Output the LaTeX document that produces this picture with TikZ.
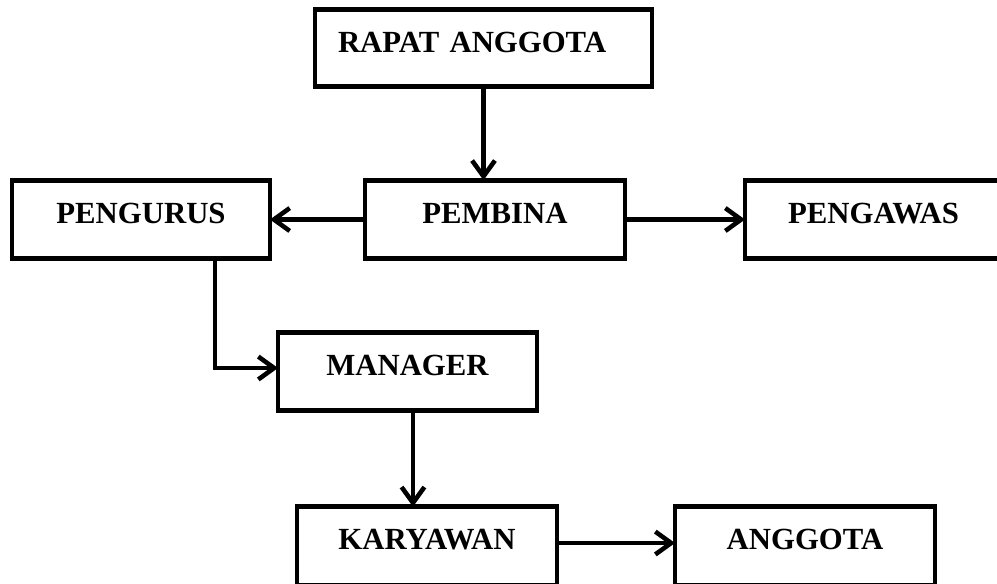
\documentclass[tikz,border=0pt]{standalone}
\usepackage{fontspec}
\setmainfont{Liberation Serif}
\usepackage{tikz}
\usetikzlibrary{positioning, arrows.meta}
\tikzset{
		org box/.style={
			rectangle,
			draw=black,
			line width=2.6pt,
			align=center,
			font=\fontsize{17.5}{20}\selectfont\bfseries,
			minimum width=5.2cm,
			text height=0.41cm,
			text depth=0.26cm,
			inner ysep=0.45cm,
			inner xsep=0pt,
			outer sep=0pt
		},
		org arrow/.style={
			line width=2.6pt,
			-{Straight Barb[length=9pt, width=13pt, line width=2.6pt]}
		}
	}
\begin{document}
\begin{tikzpicture}[x=0.02cm, y=-0.02cm]
		\useasboundingbox (0,0) rectangle (997,583);
		\clip (0,0) rectangle (997,583);
		% boxes:
		\node[org box, text width=5.82cm, align=left, minimum width=6.74cm,
			text depth=0.24cm] (rapat) at (483.5,48) {RAPAT ANGGOTA};
		\node[org box] (pembina) at (495,219.5) {PEMBINA};
		\node[org box, minimum width=5.16cm] (pengurus) at (141,219.5) {PENGURUS};
		\node[org box, minimum width=5.14cm] (pengawas) at (873.5,219.5) {PENGAWAS};
		\node[org box, minimum width=5.18cm, text depth=0.24cm] (manager) at (407.5,371.5) {MANAGER};
		\node[org box] (karyawan) at (427,546) {KARYAWAN};
		\node[org box] (anggota) at (805,546) {ANGGOTA};
		%arrows:
		\draw[org arrow] (rapat.south) -- (rapat.south |- pembina.north);
		\draw[org arrow] (pembina.west) -- (pengurus.east);
		\draw[org arrow] (pembina.east) -- (pengawas.west);
		\draw[org arrow] ([xshift=1.48cm]pengurus.south) |- ([yshift=0.07cm]manager.west);
		\draw[org arrow] ([xshift=0.11cm]manager.south) coordinate (m) -- (m |- karyawan.north);
		\draw[org arrow] ([yshift=0.06cm]karyawan.east) -- ([yshift=0.06cm]anggota.west);
	\end{tikzpicture}
\end{document}
